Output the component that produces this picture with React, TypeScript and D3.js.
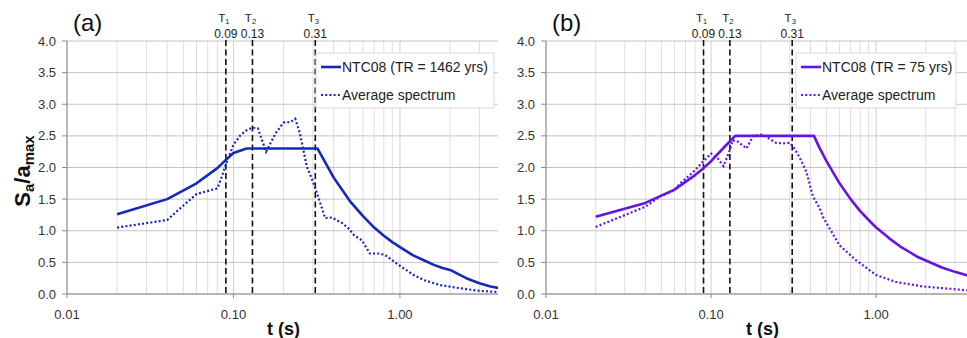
import React from 'react';
import * as d3 from 'd3';

const FONT = '"Liberation Sans", Arial, Helvetica, sans-serif';

// periods (s) and normalised spectral ordinates
const NTC_A_T = [0.02, 0.04, 0.06, 0.08, 0.09, 0.10, 0.12, 0.15, 0.2, 0.25, 0.3, 0.32, 0.4, 0.5, 0.6, 0.7, 0.8, 0.9, 1.0, 1.2, 1.4, 1.6, 1.8, 2.0, 2.5, 3.0, 3.5, 4.0];
const NTC_A = [1.26, 1.50, 1.75, 1.99, 2.12, 2.23, 2.30, 2.30, 2.30, 2.30, 2.30, 2.30, 1.84, 1.47, 1.23, 1.05, 0.92, 0.82, 0.74, 0.61, 0.53, 0.46, 0.41, 0.38, 0.25, 0.17, 0.12, 0.09];
const AVG_A_T = [0.02, 0.04, 0.05, 0.06, 0.08, 0.085, 0.09, 0.10, 0.11, 0.12, 0.13, 0.14, 0.157, 0.18, 0.20, 0.22, 0.235, 0.25, 0.276, 0.30, 0.33, 0.355, 0.39, 0.45, 0.49, 0.53, 0.59, 0.66, 0.74, 0.81, 0.98, 1.21, 1.39, 1.75, 2.3, 3.0, 4.0];
const AVG_A = [1.05, 1.17, 1.40, 1.58, 1.67, 1.85, 2.05, 2.36, 2.51, 2.59, 2.63, 2.62, 2.25, 2.55, 2.71, 2.72, 2.77, 2.55, 2.01, 1.78, 1.46, 1.20, 1.21, 1.12, 1.04, 0.93, 0.85, 0.64, 0.64, 0.62, 0.46, 0.30, 0.22, 0.14, 0.09, 0.05, 0.03];

const NTC_B_T = [0.02, 0.04, 0.06, 0.08, 0.09, 0.10, 0.12, 0.14, 0.2, 0.3, 0.42, 0.45, 0.5, 0.6, 0.7, 0.8, 0.9, 1.0, 1.2, 1.4, 1.6, 1.8, 2.0, 2.5, 3.0, 3.5, 4.0];
const NTC_B = [1.22, 1.44, 1.65, 1.88, 1.99, 2.10, 2.32, 2.50, 2.50, 2.50, 2.50, 2.33, 2.10, 1.75, 1.50, 1.31, 1.17, 1.05, 0.88, 0.75, 0.66, 0.58, 0.53, 0.42, 0.35, 0.30, 0.26];
const AVG_B_T = [0.02, 0.04, 0.049, 0.06, 0.065, 0.078, 0.089, 0.10, 0.11, 0.119, 0.13, 0.135, 0.145, 0.164, 0.18, 0.206, 0.227, 0.248, 0.273, 0.30, 0.32, 0.345, 0.378, 0.414, 0.45, 0.48, 0.6, 0.75, 1.0, 1.32, 1.9, 3.5, 4.0];
const AVG_B = [1.06, 1.38, 1.54, 1.64, 1.75, 1.93, 2.09, 2.22, 2.14, 2.02, 2.28, 2.43, 2.41, 2.30, 2.50, 2.52, 2.45, 2.39, 2.38, 2.39, 2.30, 2.15, 1.93, 1.54, 1.38, 1.20, 0.77, 0.54, 0.30, 0.19, 0.12, 0.06, 0.05];

const Y_TICKS = [0, 0.5, 1.0, 1.5, 2.0, 2.5, 3.0, 3.5, 4.0];
const X_TICKS = [0.01, 0.1, 1];
const X_TICK_LABELS = ['0.01', '0.10', '1.00'];
const T_VALUES = [0.09, 0.13, 0.31];
const T_NAMES = ['1', '2', '3'];

interface PanelProps {
  id: string;
  left: number;
  right: number;
  tMax: number;
  tag: string;
  color: string;
  ntcLabel: string;
  ntcT: number[];
  ntc: number[];
  avgT: number[];
  avg: number[];
  legendX: number;
  legendW: number;
}

function Panel(p: PanelProps) {
  const top = 41;
  const bottom = 294;
  const x = d3.scaleLog().domain([0.01, p.tMax]).range([p.left, p.right]);
  const y = d3.scaleLinear().domain([0, 4]).range([bottom, top]);

  // log grid: 1..9 in every decade
  const minor: number[] = [];
  [0.01, 0.1, 1].forEach((dec) => {
    for (let k = 1; k <= 9; k++) if (k * dec <= p.tMax) minor.push(k * dec);
  });

  const path = (ts: number[], vs: number[]) =>
    d3
      .line<number>()
      .x((_, i) => x(ts[i]))
      .y((d) => y(d))(vs) || '';

  const lg = { x: p.legendX, y: 53, w: p.legendW, h: 55 };
  const plotMid = p.left + 216.5;

  return (
    <g>
      <defs>
        <clipPath id={`clip-${p.id}`}>
          <rect x={p.left} y={top - 5} width={p.right - p.left} height={bottom - top + 10} />
        </clipPath>
      </defs>
      {/* grid */}
      {minor.map((t) => (
        <line
          key={`v${t}`}
          x1={x(t)}
          x2={x(t)}
          y1={top}
          y2={bottom}
          stroke={X_TICKS.includes(t) ? '#cfcfcf' : '#dedede'}
          strokeWidth={1}
        />
      ))}
      {Y_TICKS.map((v) => (
        <line key={`h${v}`} x1={p.left} x2={p.right} y1={y(v)} y2={y(v)} stroke="#c4c4c4" strokeWidth={1} />
      ))}
      {/* axes */}
      <line x1={p.left} x2={p.left} y1={top} y2={bottom} stroke="#8a8a8a" strokeWidth={1} />
      <line x1={p.left} x2={p.right} y1={bottom} y2={bottom} stroke="#8a8a8a" strokeWidth={1} />
      {Y_TICKS.map((v) => (
        <g key={`yt${v}`}>
          <line x1={p.left - 5} x2={p.left} y1={y(v)} y2={y(v)} stroke="#8a8a8a" />
          <text x={p.left - 11} y={y(v) + 4.6} textAnchor="end" fontSize={13} fill="#333" fontFamily={FONT}>
            {v.toFixed(1)}
          </text>
        </g>
      ))}
      {X_TICKS.map((t, i) => (
        <g key={`xt${t}`}>
          <line x1={x(t)} x2={x(t)} y1={bottom} y2={bottom + 4} stroke="#8a8a8a" />
          <text x={x(t)} y={319} textAnchor="middle" fontSize={13} fill="#333" fontFamily={FONT}>
            {X_TICK_LABELS[i]}
          </text>
        </g>
      ))}
      {/* characteristic periods */}
      {T_VALUES.map((t, i) => (
        <g key={`T${t}`}>
          <line x1={x(t)} x2={x(t)} y1={top - 1} y2={bottom} stroke="#111" strokeWidth={1.6} strokeDasharray="6 3.5" />
          <text x={x(t) - 2} y={22} textAnchor="middle" fontSize={11.5} fill="#222" fontFamily={FONT}>
            T<tspan fontSize={7.5} dy={2}>{T_NAMES[i]}</tspan>
          </text>
          <text x={x(t)} y={37.5} textAnchor="middle" fontSize={12} fill="#222" fontFamily={FONT}>
            {t.toFixed(2)}
          </text>
        </g>
      ))}
      {/* curves */}
      <g clipPath={`url(#clip-${p.id})`}>
        <path d={path(p.avgT, p.avg)} fill="none" stroke={p.color} strokeWidth={2.2} strokeDasharray="2 2.2" />
        <path d={path(p.ntcT, p.ntc)} fill="none" stroke={p.color} strokeWidth={2.6} strokeLinejoin="round" />
      </g>
      {/* legend */}
      <rect x={lg.x} y={lg.y} width={lg.w} height={lg.h} fill="#fff" stroke="#d9d9d9" strokeWidth={1} />
      <line x1={lg.x + 5} x2={lg.x + 25} y1={lg.y + 14} y2={lg.y + 14} stroke={p.color} strokeWidth={2.6} />
      <text x={lg.x + 26} y={lg.y + 19} fontSize={14} fill="#222" fontFamily={FONT}>
        {p.ntcLabel}
      </text>
      <line x1={lg.x + 5} x2={lg.x + 25} y1={lg.y + 42} y2={lg.y + 42} stroke={p.color} strokeWidth={2.2} strokeDasharray="2 2.2" />
      <text x={lg.x + 26} y={lg.y + 47} fontSize={14} fill="#222" fontFamily={FONT}>
        Average spectrum
      </text>
      {/* labels */}
      <text x={p.left + 6} y={31} fontSize={24} fill="#111" fontFamily={FONT}>
        {p.tag}
      </text>
      <text x={plotMid} y={335} textAnchor="middle" fontSize={18} fontWeight="bold" fill="#111" fontFamily={FONT}>
        t (s)
      </text>
    </g>
  );
}

export default function App() {
  return (
    <svg width={967} height={338} style={{ position: 'absolute', left: 0, top: 0, background: '#fff' }}>
      <rect width={967} height={338} fill="#fff" />
      <Panel
        id="a"
        left={67}
        right={498}
        tMax={3.88}
        tag="(a)"
        color="#1428be"
        ntcLabel="NTC08 (TR = 1462 yrs)"
        ntcT={NTC_A_T}
        ntc={NTC_A}
        avgT={AVG_A_T}
        avg={AVG_A}
        legendX={316}
        legendW={178}
      />
      <Panel
        id="b"
        left={546}
        right={967}
        tMax={3.55}
        tag="(b)"
        color="#6414e6"
        ntcLabel="NTC08 (TR = 75 yrs)"
        ntcT={NTC_B_T}
        ntc={NTC_B}
        avgT={AVG_B_T}
        avg={AVG_B}
        legendX={796}
        legendW={160}
      />
      <text transform="translate(30,171) rotate(-90)" textAnchor="middle" fontSize={22} fontWeight="bold" fill="#111" fontFamily={FONT}>
        S<tspan fontSize={15} dy={4}>a</tspan>
        <tspan dy={-4}>/a</tspan>
        <tspan fontSize={15} dy={4}>max</tspan>
      </text>
    </svg>
  );
}
